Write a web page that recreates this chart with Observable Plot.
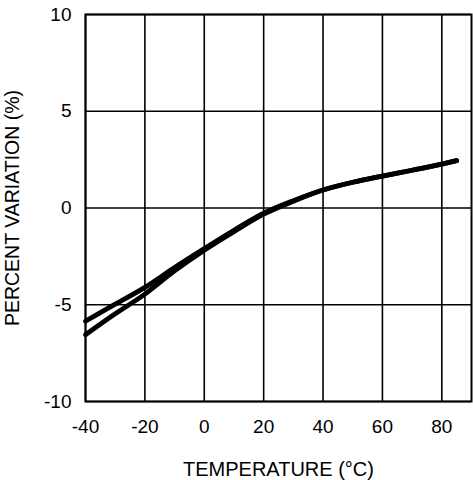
<!DOCTYPE html>
<html>
<head>
<meta charset="utf-8">
<script src="https://cdn.jsdelivr.net/npm/d3@7"></script>
<script src="https://cdn.jsdelivr.net/npm/@observablehq/plot@0.6"></script>
<style>
  html, body { margin: 0; padding: 0; background: #fff; }
  svg { display: block; }
  g[aria-label="x-axis label"] text { font-size: 20px; }
  g[aria-label="y-axis label"] text { font-size: 19.5px; }
</style>
</head>
<body>
<div id="chart"></div>
<script>
const temps = [-40, -30, -20, -10, 0, 10, 20, 30, 40, 50, 60, 70, 80, 85];
const upperSeries = [-5.85, -4.97, -4.1, -3.08, -2.1, -1.15, -0.27, 0.38, 0.93, 1.33, 1.65, 1.95, 2.27, 2.45];
const lowerSeries = [-6.55, -5.47, -4.45, -3.25, -2.18, -1.22, -0.32, 0.35, 0.93, 1.33, 1.65, 1.95, 2.27, 2.45];
const xTicks = [-40, -20, 0, 20, 40, 60, 80];
const yTicks = [-10, -5, 0, 5, 10];

const data = [
  ...temps.map((t, i) => ({series: "upper", t, v: upperSeries[i]})),
  ...temps.map((t, i) => ({series: "lower", t, v: lowerSeries[i]}))
];

const fmt = d => String(d);

const chart = Plot.plot({
  width: 473,
  height: 480,
  marginLeft: 85,
  marginRight: 2,
  marginTop: 14,
  marginBottom: 79,
  style: {fontFamily: "'Liberation Sans', Arial, sans-serif", fontSize: "19px", color: "#000", background: "#fff"},
  x: {domain: [-40, 90]},
  y: {domain: [-10, 10]},
  marks: [
    Plot.gridX(xTicks, {stroke: "#000", strokeOpacity: 1, strokeWidth: 1.6}),
    Plot.gridY(yTicks, {stroke: "#000", strokeOpacity: 1, strokeWidth: 1.6}),
    Plot.frame({stroke: "#000", strokeWidth: 2}),
    Plot.axisX(xTicks, {tickSize: 0, tickPadding: 18, fontSize: 19, tickFormat: fmt, label: "TEMPERATURE (°C)", labelAnchor: "center", labelArrow: "none", labelOffset: 74}),
    Plot.axisY(yTicks, {tickSize: 0, tickPadding: 14, fontSize: 19, tickFormat: fmt, label: "PERCENT VARIATION (%)", labelAnchor: "center", labelArrow: "none", labelOffset: 80}),
    Plot.line(data, {x: "t", y: "v", z: "series", stroke: "#000", strokeWidth: 4.8, curve: "monotone-x"})
  ]
});
document.getElementById("chart").appendChild(chart);
</script>
</body>
</html>
